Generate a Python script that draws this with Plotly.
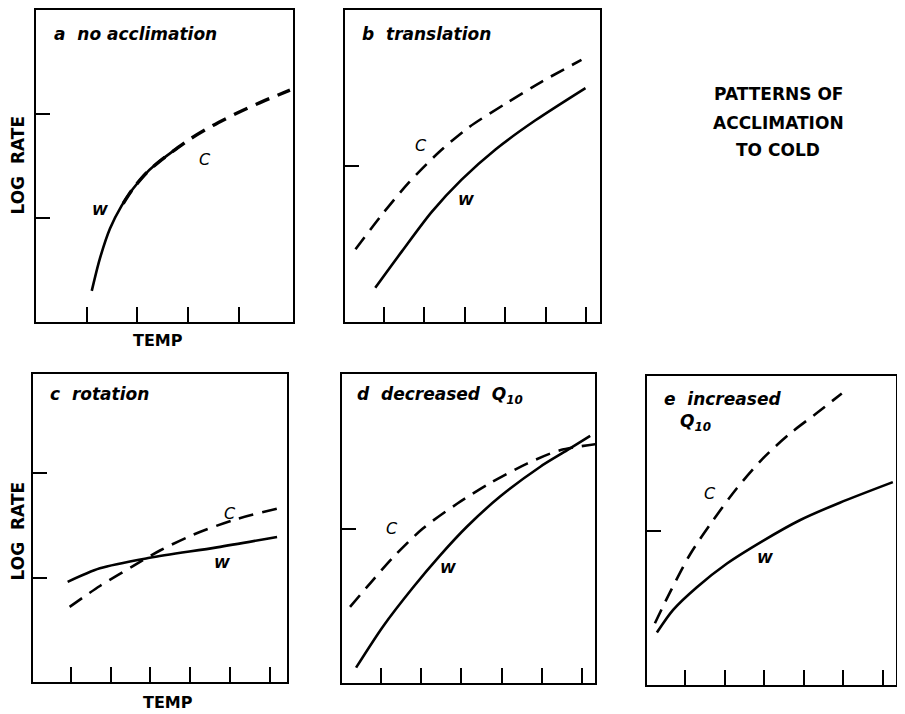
import plotly.graph_objects as go

# ---------------- data (temperature / log rate in tick units of each panel) ----------------
# panel a: no acclimation
a_w_temp = [1.10, 1.26, 1.46, 1.69, 1.91, 2.19, 2.45, 2.78, 2.84]
a_w_rate = [0.30, 0.61, 0.90, 1.12, 1.28, 1.44, 1.55, 1.67, 1.69]
a_c_temp = [1.72, 1.91, 2.19, 2.45, 2.78, 3.04, 3.49, 3.97, 4.42, 5.01]
a_c_rate = [1.14, 1.28, 1.44, 1.55, 1.67, 1.76, 1.89, 2.01, 2.11, 2.23]
# panel b: translation
b_c_temp = [0.29, 0.94, 1.61, 2.35, 3.09, 4.01, 4.90, 5.89]
b_c_rate = [0.70, 1.03, 1.34, 1.63, 1.87, 2.10, 2.31, 2.52]
b_w_temp = [0.78, 1.44, 2.18, 2.92, 3.76, 4.75, 5.99]
b_w_rate = [0.33, 0.68, 1.06, 1.37, 1.66, 1.94, 2.25]
# panel c: rotation
c_w_temp = [0.92, 1.73, 2.98, 4.67, 6.18]
c_w_rate = [0.96, 1.09, 1.19, 1.29, 1.39]
c_c_temp = [0.97, 1.73, 2.56, 3.24, 4.07, 5.07, 6.18]
c_c_rate = [0.72, 0.92, 1.11, 1.26, 1.41, 1.55, 1.66]
# panel d: decreased Q10
d_w_temp = [0.38, 1.05, 1.80, 2.47, 3.14, 3.96, 4.96, 5.63, 6.20]
d_w_rate = [0.15, 0.55, 0.93, 1.24, 1.52, 1.81, 2.10, 2.26, 2.40]
d_c_temp = [0.23, 0.80, 1.30, 2.04, 2.89, 3.71, 4.63, 5.45, 6.37]
d_c_rate = [0.74, 1.00, 1.22, 1.50, 1.74, 1.94, 2.13, 2.26, 2.32]
# panel e: increased Q10
e_w_temp = [0.29, 0.70, 1.30, 2.06, 2.97, 3.90, 4.91, 6.25]
e_w_rate = [0.51, 0.73, 0.95, 1.18, 1.40, 1.60, 1.77, 1.97]
e_c_temp = [0.24, 0.62, 1.13, 1.71, 2.31, 2.97, 3.65, 4.33, 4.96]
e_c_rate = [0.60, 0.90, 1.27, 1.60, 1.91, 2.20, 2.44, 2.64, 2.83]

panel_titles = ["a  no acclimation", "b  translation", "c  rotation",
                "d  decreased  Q<sub>10</sub>", "e  increased"]
x_tickvals = [[1, 2, 3, 4], [1, 2, 3, 4, 5, 6], [1, 2, 3, 4, 5, 6],
              [1, 2, 3, 4, 5, 6], [1, 2, 3, 4, 5, 6]]
y_tickvals = [[1, 2], [1.5], [1, 2], [1.5], [1.5]]
x_ranges = [[0, 5.07], [0.03, 6.35], [0.05, 6.43], [0.03, 6.32], [0.04, 6.33]]
y_ranges = [[0, 3], [0, 3], [0, 2.95], [0, 3], [0, 3]]
label_pos = [  # (W x, W y, C x, C y)
    (1.26, 1.08, 3.34, 1.56),
    (3.02, 1.17, 1.91, 1.70),
    (4.79, 1.14, 5.00, 1.61),
    (2.67, 1.12, 1.27, 1.50),
    (3.02, 1.23, 1.63, 1.86),
]

# page body has an 8px margin: build the figure 8px smaller and offset positions
OFF = 8
FW, FH = 897, 706


def px_x(px):
    return min(max((px - OFF) / FW, 0), 1)


def px_y(py):
    return min(max(1 - (py - OFF) / FH, 0), 1)


boxes = [  # left, right, top, bottom in page px
    (36, 293, 6, 321),
    (345, 600, 6, 321),
    (33, 287, 373, 682),
    (342, 595, 373, 683),
    (647, 896, 375, 685),
]
title_pos = [(52, 32), (360, 32), (48, 393), (355, 395), (662, 398)]

fig = go.Figure()
series = [
    (a_w_temp, a_w_rate, a_c_temp, a_c_rate),
    (b_w_temp, b_w_rate, b_c_temp, b_c_rate),
    (c_w_temp, c_w_rate, c_c_temp, c_c_rate),
    (d_w_temp, d_w_rate, d_c_temp, d_c_rate),
    (e_w_temp, e_w_rate, e_c_temp, e_c_rate),
]
DASH = "15px,9px"
for i, (wx, wy, cx, cy) in enumerate(series):
    suf = "" if i == 0 else str(i + 1)
    fig.add_trace(go.Scatter(x=wx, y=wy, mode="lines", xaxis="x" + suf, yaxis="y" + suf,
                             line=dict(color="black", width=2.6, shape="spline", smoothing=0.8),
                             showlegend=False, hoverinfo="skip"))
    fig.add_trace(go.Scatter(x=cx, y=cy, mode="lines", xaxis="x" + suf, yaxis="y" + suf,
                             line=dict(color="black", width=3.4 if i == 0 else 2.6,
                                       dash=DASH, shape="spline", smoothing=0.8),
                             showlegend=False, hoverinfo="skip"))

layout = dict(width=FW, height=FH, margin=dict(l=0, r=0, t=0, b=0, pad=0),
              paper_bgcolor="white", plot_bgcolor="white", showlegend=False)
annotations = []
title_font = dict(family="DejaVu Sans", size=17, color="black", weight="bold", style="italic")
for i, (l, r, t, b) in enumerate(boxes):
    suf = "" if i == 0 else str(i + 1)
    xa = dict(domain=[px_x(l), px_x(r)], range=x_ranges[i], anchor="y" + suf,
              showline=True, mirror=True, linecolor="black", linewidth=2,
              showgrid=False, zeroline=False, ticks="inside", ticklen=15, tickwidth=2,
              tickcolor="black", tickvals=x_tickvals[i], showticklabels=False, fixedrange=True)
    ya = dict(domain=[px_y(b), px_y(t)], range=y_ranges[i], anchor="x" + suf,
              showline=True, mirror=True, linecolor="black", linewidth=2,
              showgrid=False, zeroline=False, ticks="inside", ticklen=14, tickwidth=2,
              tickcolor="black", tickvals=y_tickvals[i], showticklabels=False, fixedrange=True)
    layout["xaxis" + suf] = xa
    layout["yaxis" + suf] = ya
    tx, ty = title_pos[i]
    annotations.append(dict(x=px_x(tx), y=px_y(ty), xref="paper", yref="paper",
                            text=panel_titles[i], showarrow=False, xanchor="left",
                            yanchor="middle", font=title_font))
    wxp, wyp, cxp, cyp = label_pos[i]
    annotations.append(dict(x=wxp, y=wyp, xref="x" + suf, yref="y" + suf, text="W",
                            showarrow=False, xanchor="center", yanchor="middle",
                            font=dict(family="DejaVu Sans", size=14, color="black",
                                      weight="bold", style="italic")))
    annotations.append(dict(x=cxp, y=cyp, xref="x" + suf, yref="y" + suf, text="C",
                            showarrow=False, xanchor="center", yanchor="middle",
                            font=dict(family="DejaVu Sans", size=16, color="black",
                                      style="italic")))

# Q10 second line of panel e title
annotations.append(dict(x=px_x(695), y=px_y(422), xref="paper", yref="paper",
                        text="Q<sub>10</sub>", showarrow=False, xanchor="center",
                        yanchor="middle", font=title_font))

axis_font = dict(family="DejaVu Sans", size=16, color="black", weight="bold")
side_font = dict(family="DejaVu Sans", size=17, color="black", weight="bold")
annotations += [
    dict(x=px_x(158), y=px_y(339), xref="paper", yref="paper", text="TEMP",
         showarrow=False, xanchor="center", yanchor="middle", font=axis_font),
    dict(x=px_x(168), y=px_y(702), xref="paper", yref="paper", text="TEMP",
         showarrow=False, xanchor="center", yanchor="middle", font=axis_font),
    dict(x=px_x(18), y=px_y(164), xref="paper", yref="paper", text="LOG  RATE",
         showarrow=False, textangle=-90, xanchor="center", yanchor="middle", font=side_font),
    dict(x=px_x(18), y=px_y(531), xref="paper", yref="paper", text="LOG  RATE",
         showarrow=False, textangle=-90, xanchor="center", yanchor="middle", font=side_font),
]
big_font = dict(family="DejaVu Sans", size=17, color="black", weight="bold")
for txt, yy in [("PATTERNS OF", 92), ("ACCLIMATION", 121), ("TO COLD", 148)]:
    annotations.append(dict(x=px_x(778), y=px_y(yy), xref="paper", yref="paper", text=txt,
                            showarrow=False, xanchor="center", yanchor="middle",
                            font=big_font))
layout["annotations"] = annotations
fig.update_layout(**layout)
fig.write_html("out.html")
